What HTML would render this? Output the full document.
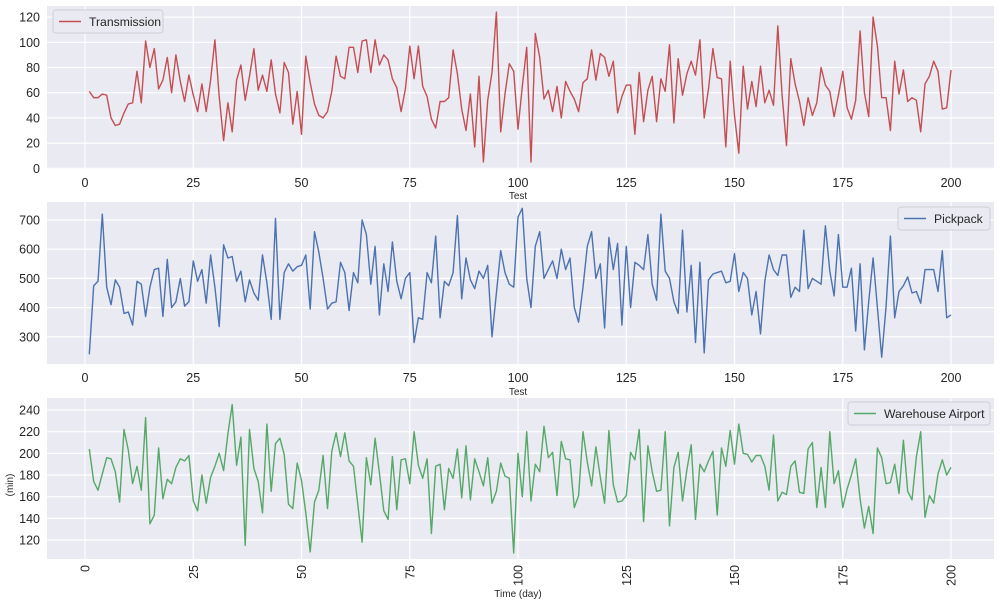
<!DOCTYPE html>
<html><head><meta charset="utf-8"><style>
body{margin:0;background:#fff;}
svg text{font-family:"Liberation Sans",Arial,sans-serif;fill:#262626;}
</style></head><body>
<svg id="s" width="1000" height="606" xmlns="http://www.w3.org/2000/svg"></svg>
<script>
const T=[61,56,56,59,58,40,34,35,44,51,52,77,52,101,80,95,63,70,88,60,90,69,53,74,58,45,67,45,70,102,57,22,52,29,70,82,54,73,95,62,74,61,86,59,44,84,76,35,61,27,89,68,51,42,40,45,61,89,73,71,96,96,76,101,102,76,102,82,90,86,71,64,45,63,97,71,97,65,57,39,32,53,53,56,94,75,47,30,59,17,73,5,54,76,124,29,59,83,77,31,65,96,5,107,88,55,62,45,65,40,69,61,55,45,68,71,94,70,91,88,73,85,44,57,66,66,27,76,37,62,73,37,71,61,98,36,87,58,75,85,74,102,40,63,95,72,71,17,85,42,12,81,47,69,49,81,52,62,50,113,58,18,87,67,53,34,56,42,52,80,66,61,41,58,77,48,39,54,109,60,41,120,97,56,56,30,85,59,78,53,56,54,29,67,73,85,77,47,48,78];
const P=[240,475,490,720,470,410,495,470,380,385,340,490,480,370,470,530,535,370,565,400,420,500,405,420,560,490,530,415,580,470,335,615,570,575,490,525,420,495,450,425,580,485,360,705,360,520,550,525,540,545,580,395,660,590,500,395,415,420,555,520,390,520,485,700,650,480,610,375,550,455,625,490,430,500,520,280,365,360,520,485,645,365,490,475,520,715,430,570,495,465,525,500,545,300,450,595,520,480,470,710,740,500,400,610,660,500,530,560,500,600,530,570,400,350,470,610,660,500,550,330,640,530,620,340,610,400,555,545,530,650,480,425,720,525,500,420,380,665,385,545,280,555,245,495,515,520,525,485,490,585,455,520,500,375,455,310,490,580,530,510,580,580,435,470,455,665,465,500,490,480,680,525,440,650,470,470,535,320,550,255,420,570,400,230,405,645,365,455,475,505,450,455,415,530,530,530,455,595,365,375];
const W=[204,174,166,181,196,195,183,155,222,203,172,188,166,233,135,143,205,158,176,172,187,195,193,198,156,147,180,154,178,188,200,184,218,245,189,215,115,222,186,174,145,227,165,209,214,199,153,149,191,175,145,109,155,166,198,149,202,219,197,219,193,188,153,118,196,171,214,182,147,139,197,148,194,195,172,220,189,177,195,126,188,190,148,186,177,204,159,207,157,195,183,170,196,154,165,191,179,177,108,200,160,220,156,190,183,225,196,201,161,211,195,194,150,161,220,192,170,206,178,154,221,171,155,156,161,201,194,222,137,207,183,165,166,220,133,187,201,156,185,208,139,190,183,193,202,143,205,188,221,190,227,200,199,192,198,198,188,166,217,156,164,162,188,193,164,163,204,210,150,187,150,220,172,184,150,167,180,195,158,131,151,126,205,196,172,173,190,163,212,165,157,197,220,141,161,154,181,194,180,187];
const L=47,R=994,X=d=>85+d*4.33;
const panels=[
 {top:6,bot:169,y0:168.3,v0:0,k:25.2/20,ticks:[0,20,40,60,80,100,120],data:T,col:"#C44E52",name:"Transmission",leg:[53,10,110],xl:"Test",xlY:199,rot:false},
 {top:202,bot:364,y0:220,v0:700,k:29.2/100,ticks:[300,400,500,600,700],data:P,col:"#4C72B0",name:"Pickpack",leg:[898,207,92],xl:"Test",xlY:395,rot:false},
 {top:398,bot:559,y0:410,v0:240,k:21.67/20,ticks:[120,140,160,180,200,220,240],data:W,col:"#55A868",name:"Warehouse Airport",leg:[848,402,142],xl:"Time (day)",xlY:597,rot:true}
];
let h="";
for(const p of panels){
 const Y=v=>p.y0-(v-p.v0)*p.k;
 h+=`<rect x="${L}" y="${p.top}" width="${R-L}" height="${p.bot-p.top}" fill="#EAEAF2"/>`;
 for(const t of p.ticks){const y=Y(t);if(y>=p.top&&y<=p.bot)h+=`<line x1="${L}" x2="${R}" y1="${y}" y2="${y}" stroke="#fff" stroke-width="1.2"/>`;
  h+=`<text x="40" y="${y+4.5}" font-size="12.5" text-anchor="end">${t}</text>`;}
 for(let d=0;d<=200;d+=25){const x=X(d);h+=`<line x1="${x}" x2="${x}" y1="${p.top}" y2="${p.bot}" stroke="#fff" stroke-width="1.2"/>`;
  if(p.rot)h+=`<text transform="translate(${x+4.5},${p.bot+6}) rotate(-90)" font-size="12.5" text-anchor="end">${d}</text>`;
  else h+=`<text x="${x}" y="${p.bot+18}" font-size="12.5" text-anchor="middle">${d}</text>`;}
 h+=`<polyline fill="none" stroke="${p.col}" stroke-width="1.4" stroke-linejoin="round" points="${p.data.map((v,i)=>X(i+1).toFixed(1)+","+Y(v).toFixed(1)).join(" ")}"/>`;
 const [lx,ly,lw]=p.leg;
 h+=`<rect x="${lx}" y="${ly}" width="${lw}" height="23" rx="3" fill="#EAEAF2" stroke="#cfcfd6"/>`;
 h+=`<line x1="${lx+6}" x2="${lx+28}" y1="${ly+11.5}" y2="${ly+11.5}" stroke="${p.col}" stroke-width="1.4"/>`;
 h+=`<text x="${lx+36}" y="${ly+16}" font-size="12.2">${p.name}</text>`;
 h+=`<text x="518" y="${p.xlY}" font-size="10" text-anchor="middle">${p.xl}</text>`;
}
h+=`<text transform="translate(13,485) rotate(-90)" font-size="10" text-anchor="middle">(min)</text>`;
document.getElementById("s").innerHTML=h;
</script>
</body></html>
